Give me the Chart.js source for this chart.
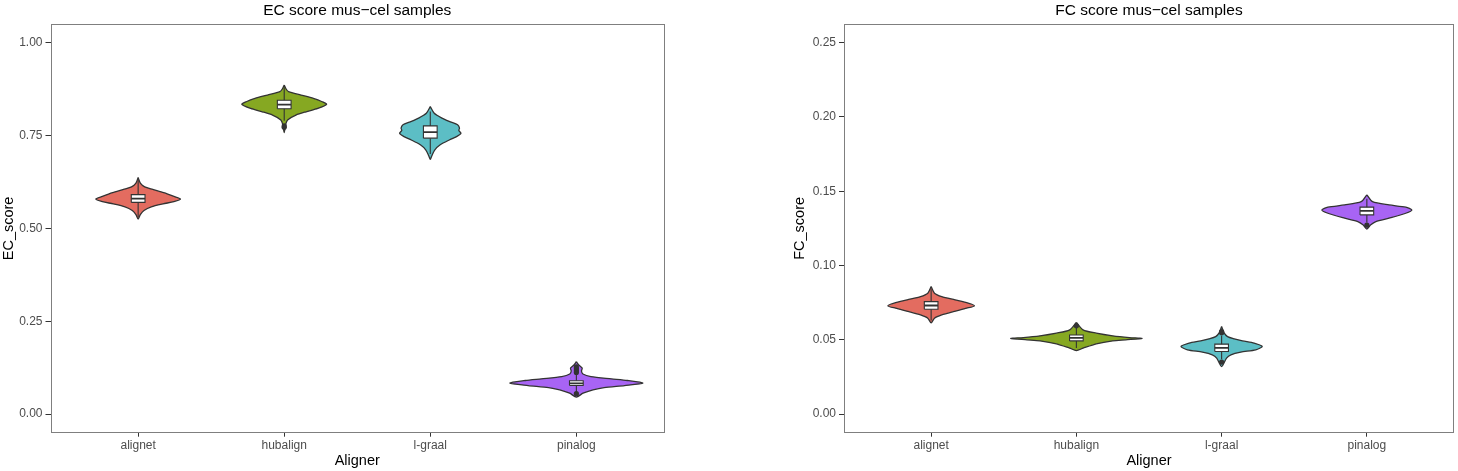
<!DOCTYPE html>
<html>
<head>
<meta charset="utf-8">
<script src="https://cdn.jsdelivr.net/npm/chart.js@4.4.0/dist/chart.umd.min.js"></script>
<style>
    html, body { margin: 0; padding: 0; background: #fff; }
    #wrap { position: relative; width: 1458px; height: 471px; }
    canvas { position: absolute; top: 0; }
    #ecChart { left: 0; }
    #fcChart { left: 729px; }
</style>
</head>
<body>
<div id="wrap">
    <canvas id="ecChart" width="729" height="471"></canvas>
    <canvas id="fcChart" width="729" height="471"></canvas>
</div>
<script>
const aligners = ['alignet', 'hubalign', 'l-graal', 'pinalog'];
const fills = ['#E36C60', '#86A822', '#5CBEC5', '#A864F4'];

const ecTicks = [0, 0.25, 0.5, 0.75, 1];
const fcTicks = [0, 0.05, 0.10, 0.15, 0.20, 0.25];

// violin outline per aligner: score levels from top to bottom, half width in category units
const ecViolinScore = [
    [0.637, 0.622, 0.612, 0.605, 0.596, 0.586, 0.579, 0.572, 0.566, 0.558, 0.548, 0.537, 0.525],
    [0.886, 0.876, 0.868, 0.859, 0.850, 0.841, 0.834, 0.823, 0.814, 0.805, 0.792, 0.780, 0.758],
    [0.828, 0.810, 0.797, 0.787, 0.779, 0.770, 0.764, 0.756, 0.747, 0.738, 0.725, 0.711, 0.695, 0.686],
    [0.141, 0.133, 0.124, 0.116, 0.108, 0.101, 0.095, 0.0905, 0.0834, 0.077, 0.0716, 0.0654, 0.0565, 0.0457]
];
const ecViolinWidth = [
    [0, 0.015, 0.045, 0.10, 0.175, 0.245, 0.29, 0.245, 0.17, 0.09, 0.04, 0.015, 0],
    [0, 0.012, 0.03, 0.115, 0.20, 0.26, 0.29, 0.23, 0.15, 0.08, 0.023, 0.01, 0],
    [0, 0.027, 0.08, 0.137, 0.187, 0.20, 0.195, 0.21, 0.18, 0.13, 0.068, 0.03, 0.01, 0],
    [0, 0.015, 0.04, 0.035, 0.045, 0.10, 0.24, 0.35, 0.455, 0.33, 0.19, 0.114, 0.046, 0]
];
const ecLow = [0.530, 0.790, 0.700, 0.058];
const ecQ1 = [0.570, 0.822, 0.743, 0.077];
const ecMedian = [0.580, 0.833, 0.759, 0.083];
const ecQ3 = [0.591, 0.845, 0.776, 0.090];
const ecHigh = [0.632, 0.880, 0.815, 0.108];
const ecOutliers = [[], [0.776, 0.772], [], [0.112, 0.117, 0.122, 0.127, 0.055]];

const fcViolinScore = [
    [0.0858, 0.0814, 0.0791, 0.0769, 0.0747, 0.0729, 0.0713, 0.0690, 0.0668, 0.0646, 0.0614],
    [0.0617, 0.0567, 0.0545, 0.0527, 0.0515, 0.0509, 0.0500, 0.0493, 0.0473, 0.0444, 0.0428],
    [0.0590, 0.0545, 0.0522, 0.0507, 0.0493, 0.0478, 0.0455, 0.0433, 0.0417, 0.0399, 0.0377, 0.0320],
    [0.1476, 0.1430, 0.1408, 0.1393, 0.1374, 0.1352, 0.1319, 0.1296, 0.1274, 0.1245]
];
const fcViolinWidth = [
    [0, 0.023, 0.073, 0.165, 0.255, 0.298, 0.245, 0.153, 0.073, 0.023, 0],
    [0, 0.046, 0.137, 0.25, 0.365, 0.452, 0.34, 0.25, 0.137, 0.046, 0],
    [0, 0.018, 0.041, 0.087, 0.144, 0.224, 0.28, 0.235, 0.132, 0.064, 0.034, 0],
    [0, 0.039, 0.153, 0.268, 0.31, 0.268, 0.153, 0.062, 0.027, 0]
];
const fcLow = [0.063, 0.0445, 0.037, 0.129];
const fcQ1 = [0.0706, 0.0493, 0.0421, 0.1341];
const fcMedian = [0.0731, 0.0513, 0.0446, 0.1368];
const fcQ3 = [0.0757, 0.0533, 0.0471, 0.1393];
const fcHigh = [0.084, 0.058, 0.053, 0.145];
const fcOutliers = [[], [0.0594], [0.0548, 0.0556, 0.0350], [0.1272]];

const FONT = "'Liberation Sans', Arial, sans-serif";
const BOX_HALF = 0.047;
const INK = '#333333';

function buildDatasets(scores, widths, low, q1, med, q3, high, outliers) {
    const sets = [];
    aligners.forEach((name, i) => {
        const c = i + 1;
        const right = scores[i].map((y, k) => ({ x: c + widths[i][k], y }));
        const left = scores[i].map((y, k) => ({ x: c - widths[i][k], y })).reverse().slice(1);
        sets.push({
            data: right.concat(left), order: 4, fill: 'shape', tension: 0.25,
            backgroundColor: fills[i], borderColor: INK, borderWidth: 1.3, pointRadius: 0
        });
        sets.push({
            data: [{ x: c, y: low[i] }, { x: c, y: high[i] }], order: 3,
            borderColor: INK, borderWidth: 1.1, pointRadius: 0, fill: false
        });
        sets.push({
            data: [
                { x: c - BOX_HALF, y: q1[i] }, { x: c + BOX_HALF, y: q1[i] },
                { x: c + BOX_HALF, y: q3[i] }, { x: c - BOX_HALF, y: q3[i] },
                { x: c - BOX_HALF, y: q1[i] }
            ],
            order: 2, fill: 'shape', tension: 0,
            backgroundColor: '#ffffff', borderColor: INK, borderWidth: 1.1, pointRadius: 0
        });
        sets.push({
            data: [{ x: c - BOX_HALF, y: med[i] }, { x: c + BOX_HALF, y: med[i] }], order: 1,
            borderColor: INK, borderWidth: 1.8, pointRadius: 0, fill: false
        });
        if (outliers[i].length) {
            sets.push({
                type: 'scatter', data: outliers[i].map(y => ({ x: c, y })), order: 0,
                pointRadius: 2.6, backgroundColor: INK, borderWidth: 0
            });
        }
    });
    return sets;
}

const frame = {
    id: 'frame',
    afterDraw(chart) {
        const { ctx, chartArea: a } = chart;
        ctx.save();
        ctx.strokeStyle = '#7f7f7f';
        ctx.lineWidth = 1;
        ctx.strokeRect(Math.round(a.left) + 0.5, Math.round(a.top) + 0.5,
            Math.round(a.right - a.left) - 1, Math.round(a.bottom - a.top) - 1);
        ctx.restore();
    }
};

function makeChart(id, datasets, ticks, yMin, yMax, yTitle, title, pad, axisWidth) {
    return new Chart(document.getElementById(id), {
        type: 'line',
        data: { datasets },
        options: {
            responsive: false,
            animation: false,
            events: [],
            layout: { padding: pad },
            plugins: {
                legend: { display: false },
                tooltip: { enabled: false },
                title: {
                    display: true, text: title, fullSize: false, color: '#000',
                    font: { size: 15.5, family: FONT, weight: 'normal' },
                    padding: { top: 1, bottom: 4.5 }
                }
            },
            scales: {
                x: {
                    type: 'linear', min: 0.4, max: 4.6,
                    afterBuildTicks: s => { s.ticks = aligners.map((a, i) => ({ value: i + 1 })); },
                    afterFit: s => { s.height = 38.3; },
                    ticks: {
                        callback: v => aligners[Math.round(v) - 1],
                        color: '#4d4d4d', font: { size: 12, family: FONT }, padding: 2,
                        maxRotation: 0, autoSkip: false
                    },
                    grid: { drawOnChartArea: false, drawTicks: true, tickLength: 4, color: INK },
                    border: { display: false },
                    title: {
                        display: true, text: 'Aligner', color: '#000',
                        font: { size: 14.5, family: FONT }, padding: { top: 0, bottom: 1 }
                    }
                },
                y: {
                    type: 'linear', min: yMin, max: yMax,
                    afterBuildTicks: s => { s.ticks = ticks.map(v => ({ value: v })); },
                    afterFit: s => { s.width = axisWidth; },
                    ticks: {
                        callback: v => v.toFixed(2),
                        color: '#4d4d4d', font: { size: 12, family: FONT }, padding: 3
                    },
                    grid: { drawOnChartArea: false, drawTicks: true, tickLength: 5, color: INK },
                    border: { display: false },
                    title: {
                        display: true, text: yTitle, color: '#000',
                        font: { size: 14.5, family: FONT }, padding: { top: 0, bottom: 0 }
                    }
                }
            }
        },
        plugins: [frame]
    });
}

makeChart('ecChart',
    buildDatasets(ecViolinScore, ecViolinWidth, ecLow, ecQ1, ecMedian, ecQ3, ecHigh, ecOutliers),
    ecTicks, -0.05, 1.05, 'EC_score', 'EC score mus\u2212cel samples',
    { left: 0, right: 65, top: 0, bottom: 0 }, 50.5);

makeChart('fcChart',
    buildDatasets(fcViolinScore, fcViolinWidth, fcLow, fcQ1, fcMedian, fcQ3, fcHigh, fcOutliers),
    fcTicks, -0.0125, 0.2625, 'FC_score', 'FC score mus\u2212cel samples',
    { left: 62, right: 1, top: 0, bottom: 0 }, 53);
</script>
</body>
</html>
